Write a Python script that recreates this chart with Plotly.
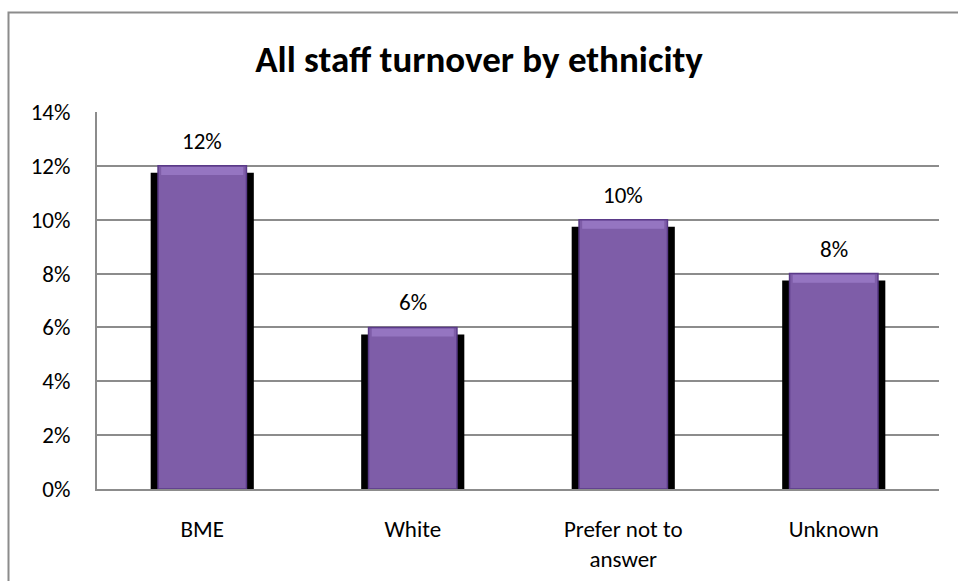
import plotly.graph_objects as go

# Turnover rates by ethnic group
categories = ["BME", "White", "Prefer not to<br>answer", "Unknown"]
turnover = [0.12, 0.06, 0.10, 0.08]
value_labels = ["12%", "6%", "10%", "8%"]
y_ticks = [0, 0.02, 0.04, 0.06, 0.08, 0.10, 0.12, 0.14]
y_tick_text = ["0%", "2%", "4%", "6%", "8%", "10%", "12%", "14%"]

W, H = 958, 581
L, R, T, B = 97, 19, 112, 92
plot_h = H - T - B
# shadow axis shifted so the drop shadow sits a few pixels lower
shift = 0.14 * 7 / plot_h
# depth of the bevel highlight along each bar top, in value units
bevel = 0.14 * 8 / plot_h

font_family = "Carlito, Lato, 'Open Sans', sans-serif"

fig = go.Figure()

# drop shadow behind each bar (main axis, shifted range)
fig.add_trace(go.Bar(
    x=categories, y=turnover, width=0.49,
    marker=dict(color="#000000", line=dict(width=0)),
    yaxis="y", hoverinfo="skip", showlegend=False,
))

# main purple bars on the visible value axis
fig.add_trace(go.Bar(
    x=categories, y=turnover, width=0.42,
    marker=dict(color="#7E5DA8", line=dict(color="#5A3A88", width=1.5)),
    showlegend=False, yaxis="y2", hoverinfo="x+y",
))

# lighter bevel along the top of each bar
fig.add_trace(go.Bar(
    x=categories, y=[bevel] * len(turnover),
    base=[v - bevel - 0.0004 for v in turnover], width=0.39,
    marker=dict(color="rgba(185,155,230,0.4)", line=dict(width=0)),
    showlegend=False, yaxis="y2", hoverinfo="skip",
))

# value labels above the bars
for cat, val, lab in zip(categories, turnover, value_labels):
    fig.add_annotation(
        x=cat, y=val, xref="x", yref="y2", text=lab, showarrow=False,
        yanchor="bottom", yshift=9,
        font=dict(family=font_family, size=23, color="#000000"),
    )

fig.update_layout(
    width=W, height=H,
    margin=dict(l=L, r=R, t=T, b=B),
    paper_bgcolor="white", plot_bgcolor="white",
    barmode="overlay", bargap=0.5,
    title=dict(
        text="<b>All staff turnover by ethnicity</b>",
        x=0.5, xanchor="center", y=1 - 59 / H, yanchor="middle",
        font=dict(family=font_family, size=37, color="#000000"),
    ),
    font=dict(family=font_family, size=23, color="#000000"),
    xaxis=dict(
        showgrid=False, showline=True, linecolor="#8C8C8C", linewidth=2,
        ticks="", tickfont=dict(size=23), ticklabelstandoff=18,
        automargin=False,
    ),
    yaxis=dict(
        range=[shift, 0.14 + shift], visible=False, showgrid=False,
        zeroline=False, automargin=False,
    ),
    yaxis2=dict(
        range=[0, 0.14], tickvals=y_ticks, ticktext=y_tick_text,
        overlaying="y", side="left",
        showgrid=True, gridcolor="#8C8C8C", gridwidth=1.5,
        showline=True, linecolor="#8C8C8C", linewidth=2,
        zeroline=False, ticks="", tickfont=dict(size=23),
        ticklabelstandoff=20, automargin=False,
    ),
    shapes=[
        dict(type="rect", xref="paper", yref="paper",
             x0=(8.5 - L) / (W - L - R), x1=(W + 10 - L) / (W - L - R),
             y0=-(H + 10 - T - plot_h) / plot_h - 0.2,
             y1=1 + (T - 12.5) / plot_h,
             line=dict(color="#8C8C8C", width=2), fillcolor="rgba(0,0,0,0)",
             layer="below"),
    ],
)

fig.write_html("out.html")
